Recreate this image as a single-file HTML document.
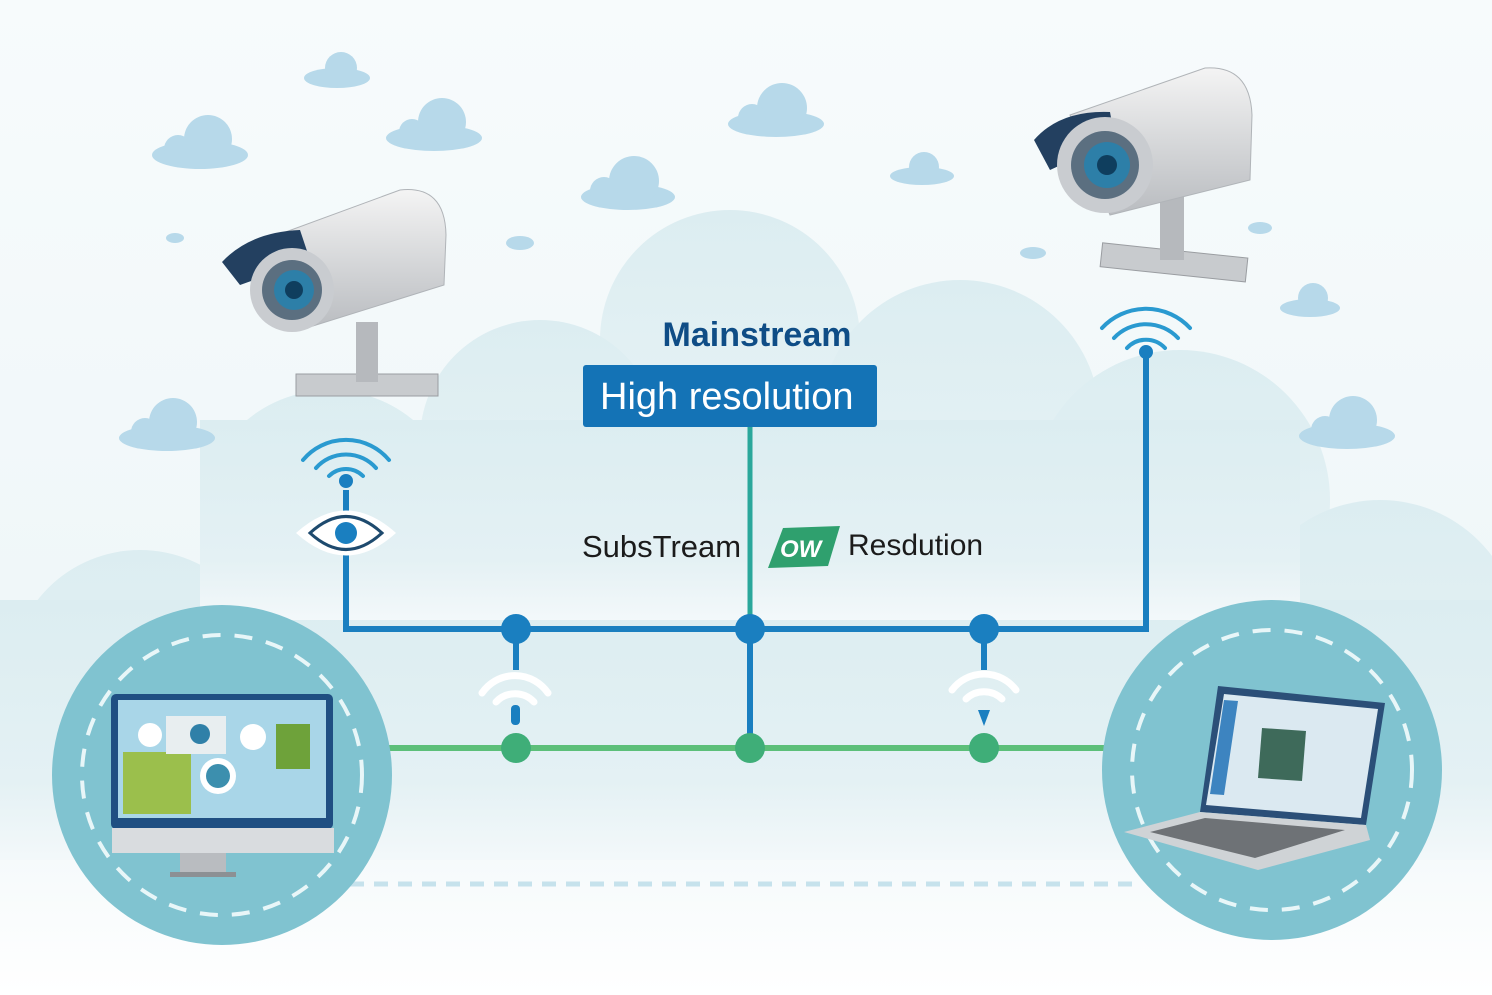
<!DOCTYPE html>
<html><head><meta charset="utf-8"><style>
html,body{margin:0;padding:0;background:#fff;}
svg{display:block;font-family:"Liberation Sans",sans-serif;}
</style></head><body>
<svg width="1492" height="995" viewBox="0 0 1492 995" xmlns="http://www.w3.org/2000/svg">
<defs>
<linearGradient id="bg" x1="0" y1="0" x2="0" y2="1">
<stop offset="0" stop-color="#f7fbfc"/><stop offset="0.75" stop-color="#eef6f8"/><stop offset="1" stop-color="#ffffff"/>
</linearGradient>
<linearGradient id="cl" x1="0" y1="0" x2="0" y2="1">
<stop offset="0" stop-color="#dcedf1"/><stop offset="0.7" stop-color="#e4f1f4"/><stop offset="1" stop-color="#f3f8fa"/>
</linearGradient>
<linearGradient id="cam" x1="0" y1="0" x2="0" y2="1">
<stop offset="0" stop-color="#f4f4f4"/><stop offset="1" stop-color="#b9bcc0"/>
</linearGradient>
</defs>
<rect width="1492" height="995" fill="url(#bg)"/>
<g fill="url(#cl)">
<circle cx="730" cy="340" r="130"/>
<circle cx="540" cy="440" r="120"/>
<circle cx="960" cy="420" r="140"/>
<circle cx="330" cy="520" r="130"/>
<circle cx="1180" cy="500" r="150"/>
<circle cx="140" cy="680" r="130"/>
<circle cx="1380" cy="640" r="140"/>
<rect x="0" y="600" width="1492" height="260"/>
<rect x="200" y="420" width="1100" height="200"/>
</g>
<g fill="#b7d9ea">
<g transform="translate(200,145)"><ellipse cx="0" cy="10" rx="48" ry="14"/><circle cx="8" cy="-6" r="24"/><circle cx="-22" cy="4" r="14"/></g>
<g transform="translate(337,72)"><ellipse cx="0" cy="6" rx="33" ry="10"/><circle cx="4" cy="-4" r="16"/></g>
<g transform="translate(434,128)"><ellipse cx="0" cy="10" rx="48" ry="13"/><circle cx="8" cy="-6" r="24"/><circle cx="-22" cy="4" r="13"/></g>
<g transform="translate(628,185)"><ellipse cx="0" cy="12" rx="47" ry="13"/><circle cx="6" cy="-4" r="25"/><circle cx="-24" cy="6" r="14"/></g>
<g transform="translate(776,112)"><ellipse cx="0" cy="12" rx="48" ry="13"/><circle cx="6" cy="-4" r="25"/><circle cx="-24" cy="6" r="14"/></g>
<g transform="translate(922,170)"><ellipse cx="0" cy="6" rx="32" ry="9"/><circle cx="2" cy="-3" r="15"/></g>
<g transform="translate(167,428)"><ellipse cx="0" cy="10" rx="48" ry="13"/><circle cx="6" cy="-6" r="24"/><circle cx="-22" cy="4" r="14"/></g>
<g transform="translate(1347,426)"><ellipse cx="0" cy="10" rx="48" ry="13"/><circle cx="6" cy="-6" r="24"/><circle cx="-22" cy="4" r="14"/></g>
<g transform="translate(1310,302)"><ellipse cx="0" cy="6" rx="30" ry="9"/><circle cx="3" cy="-4" r="15"/></g>
<ellipse cx="175" cy="238" rx="9" ry="5"/><ellipse cx="520" cy="243" rx="14" ry="7"/>
<ellipse cx="1033" cy="253" rx="13" ry="6"/><ellipse cx="1260" cy="228" rx="12" ry="6"/>
</g>
<line x1="350" y1="884" x2="1140" y2="884" stroke="#c6e2ec" stroke-width="5" stroke-dasharray="14,10"/>
<g stroke="#1a7fc0" stroke-width="6" fill="none">
<polyline points="346,490 346,629 1146,629 1146,352"/>
<line x1="516" y1="629" x2="516" y2="670"/>
<line x1="984" y1="629" x2="984" y2="670"/>
<line x1="750" y1="629" x2="750" y2="748"/>
</g>
<line x1="750" y1="425" x2="750" y2="629" stroke="#2aa79b" stroke-width="5"/>
<line x1="330" y1="748" x2="1210" y2="748" stroke="#5cbf79" stroke-width="6"/>
<g fill="#1a7fc0"><circle cx="516" cy="629" r="15"/><circle cx="750" cy="629" r="15"/><circle cx="984" cy="629" r="15"/></g>
<g fill="#3fae78"><circle cx="516" cy="748" r="15"/><circle cx="750" cy="748" r="15"/><circle cx="984" cy="748" r="15"/></g>
<g fill="none" stroke="#fff" stroke-width="7" stroke-linecap="round">
<path d="M482,693 A40,40 0 0 1 548,693"/><path d="M496,702 A26,26 0 0 1 534,702"/>
<path d="M952,690 A40,40 0 0 1 1016,690"/><path d="M966,699 A26,26 0 0 1 1002,699"/>
</g>
<rect x="511" y="705" width="9" height="20" rx="4" fill="#1a7fc0"/>
<path d="M978,710 L990,710 L984,726Z" fill="#1a7fc0"/>
<g fill="none" stroke="#2a9ad0" stroke-width="4" stroke-linecap="round">
<path d="M303,460 A56,56 0 0 1 389,460"/><path d="M316,468 A40,40 0 0 1 376,468"/><path d="M329,476 A24,24 0 0 1 363,476"/>
<path d="M1102,328 A60,60 0 0 1 1190,328"/><path d="M1114,338 A44,44 0 0 1 1178,338"/><path d="M1127,348 A26,26 0 0 1 1165,348"/>
</g>
<circle cx="346" cy="481" r="7" fill="#1a7fc0"/><circle cx="1146" cy="352" r="7" fill="#1a7fc0"/>
<path d="M296,533 Q346,488 396,533 Q346,578 296,533Z" fill="#fff"/>
<path d="M310,533 Q346,500 382,533 Q346,566 310,533Z" fill="none" stroke="#1e4a6e" stroke-width="3"/>
<circle cx="346" cy="533" r="11" fill="#1a7fc0"/>
<text x="757" y="346" text-anchor="middle" font-size="34" font-weight="bold" fill="#0f4d86">Mainstream</text>
<rect x="583" y="365" width="294" height="62" rx="3" fill="#1473b6"/>
<text x="600" y="409" font-size="38" fill="#fff">High resolution</text>
<text x="582" y="557" font-size="31" fill="#1b1b1b">SubsTream</text>
<path d="M783,528 L840,526 L828,566 L768,568Z" fill="#2fa06e"/>
<text x="780" y="557" font-size="24" font-style="italic" font-weight="bold" fill="#fff">OW</text>
<text x="848" y="555" font-size="30" fill="#1b1b1b">Resdution</text>
<circle cx="222" cy="775" r="170" fill="#80c3d0"/>
<circle cx="222" cy="775" r="140" fill="none" stroke="#e8f6f8" stroke-width="4" stroke-dasharray="18,14"/>
<rect x="111" y="694" width="222" height="135" rx="5" fill="#1f4f82"/>
<rect x="118" y="700" width="208" height="118" fill="#a9d6e8"/>
<rect x="123" y="752" width="68" height="62" fill="#9bbf4c"/>
<rect x="276" y="724" width="34" height="45" fill="#6ea23a"/>
<rect x="166" y="716" width="60" height="38" fill="#e8eef0"/>
<circle cx="150" cy="735" r="12" fill="#fff"/><circle cx="253" cy="737" r="13" fill="#fff"/>
<circle cx="218" cy="776" r="18" fill="#fff"/><circle cx="218" cy="776" r="12" fill="#3c8fae"/>
<circle cx="200" cy="734" r="10" fill="#2f80a8"/>
<rect x="112" y="828" width="222" height="25" fill="#d9dcdf"/>
<rect x="180" y="853" width="46" height="20" fill="#b9bcc0"/>
<rect x="170" y="872" width="66" height="5" fill="#8c9094"/>
<circle cx="1272" cy="770" r="170" fill="#80c3d0"/>
<circle cx="1272" cy="770" r="140" fill="none" stroke="#e8f6f8" stroke-width="4" stroke-dasharray="18,14"/>
<path d="M1218,686 L1385,703 L1366,825 L1200,812Z" fill="#2b4f78"/>
<path d="M1224,694 L1378,709 L1361,818 L1206,805Z" fill="#dbe9f1"/>
<path d="M1224,700 L1238,701 L1224,795 L1210,794Z" fill="#3d84c0"/>
<path d="M1262,728 L1306,731 L1302,781 L1258,778Z" fill="#3e6a5a"/>
<path d="M1200,812 L1366,825 L1370,840 L1258,870 L1124,832Z" fill="#cfd3d6"/>
<path d="M1205,818 L1345,830 L1255,858 L1150,832Z" fill="#6e7276"/>
<g>
<rect x="296" y="374" width="142" height="22" fill="#c8cbce" stroke="#9a9da1"/>
<rect x="356" y="322" width="22" height="60" fill="#b6b9bd"/>
<path d="M250,245 L400,190 Q445,185 446,235 L444,285 L300,330 Z" fill="url(#cam)" stroke="#b0b4b8"/>
<path d="M222,262 Q250,232 300,230 L310,260 L240,285Z" fill="#234060"/>
<circle cx="292" cy="290" r="42" fill="#c9ccd0"/>
<circle cx="292" cy="290" r="30" fill="#5b6f80"/>
<circle cx="294" cy="290" r="20" fill="#2d7fa8"/><circle cx="294" cy="290" r="9" fill="#0f3e5e"/>
</g>
<g>
<rect x="1101" y="250" width="146" height="24" fill="#c8cbce" stroke="#9a9da1" transform="rotate(6 1170 262)"/>
<rect x="1160" y="185" width="24" height="75" fill="#b6b9bd"/>
<path d="M1070,115 L1205,68 Q1250,65 1252,115 L1250,180 L1110,215 Z" fill="url(#cam)" stroke="#b0b4b8"/>
<path d="M1034,140 Q1060,110 1110,112 L1115,140 L1050,170Z" fill="#234060"/>
<circle cx="1105" cy="165" r="48" fill="#c9ccd0"/>
<circle cx="1105" cy="165" r="34" fill="#5b6f80"/>
<circle cx="1107" cy="165" r="23" fill="#2d7fa8"/><circle cx="1107" cy="165" r="10" fill="#0f3e5e"/>
</g>
</svg>
</body></html>
